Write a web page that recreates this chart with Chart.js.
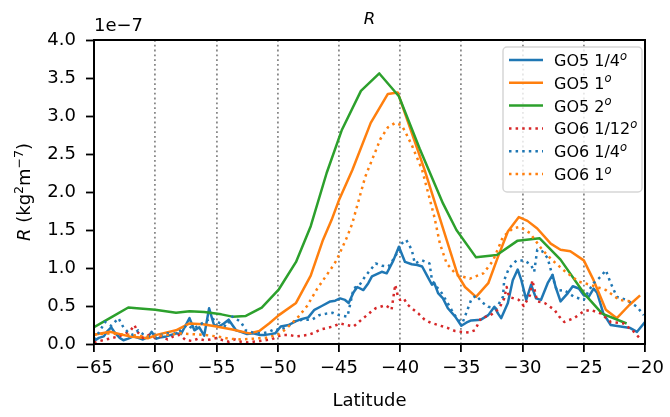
<!DOCTYPE html>
<html>
<head>
<meta charset="utf-8">
<script src="https://cdn.jsdelivr.net/npm/chart.js@4.4.1/dist/chart.umd.min.js"></script>
<style>
  html, body { margin: 0; padding: 0; background: #fff; }
  #wrap { width: 670px; height: 417px; }
</style>
</head>
<body>
<div id="wrap"><canvas id="chart" width="670" height="417"></canvas></div>
<script>
const FONT = '"DejaVu Sans", sans-serif';
const FS = 18; // ticks and axis labels
const FS_LEGEND = 16;
const FS_TITLE = 16.5;
const FS_SUP = 12.5;

// values in units of 1e-7 kg^2 m^-7
const go5QuarterLat = [-65, -64.6, -64.2, -63.9, -63.6, -63.3, -62.9, -62.6, -62.2, -61.8, -61.4, -61.0, -60.6, -60.3, -59.9, -59.5, -59.1, -58.7, -58.3, -57.9, -57.6, -57.2, -56.8, -56.4, -56.0, -55.6, -55.2, -54.8, -54.4, -54.0, -53.7, -53.4, -53.0, -52.5, -52.0, -51.5, -51.0, -50.6, -50.2, -49.75, -49.1, -48.5, -48.0, -47.5, -47.0, -46.4, -45.7, -45.3, -44.9, -44.5, -44.2, -43.8, -43.5, -43.0, -42.6, -42.3, -41.9, -41.5, -41.1, -40.8, -40.55, -40.1, -39.6, -39.05, -38.6, -38.2, -37.8, -37.4, -37.2, -36.9, -36.5, -36.1, -35.5, -35.0, -34.6, -34.2, -33.4, -32.8, -32.3, -32.0, -31.75, -31.2, -30.8, -30.4, -30.1, -29.7, -29.3, -28.9, -28.5, -27.95, -27.55, -27.3, -26.9, -26.3, -25.9, -25.4, -25.0, -24.6, -24.2, -23.9, -23.4, -22.8, -22.0, -21.2, -20.65, -20.0];
const go5QuarterVal = [0.04, 0.08, 0.10, 0.17, 0.22, 0.15, 0.08, 0.05, 0.07, 0.10, 0.08, 0.06, 0.09, 0.16, 0.07, 0.09, 0.10, 0.12, 0.14, 0.13, 0.22, 0.34, 0.18, 0.22, 0.11, 0.47, 0.25, 0.23, 0.27, 0.32, 0.25, 0.18, 0.16, 0.13, 0.14, 0.12, 0.12, 0.13, 0.14, 0.23, 0.25, 0.30, 0.33, 0.35, 0.45, 0.50, 0.56, 0.57, 0.60, 0.58, 0.54, 0.68, 0.75, 0.71, 0.80, 0.89, 0.92, 0.95, 0.93, 1.02, 1.10, 1.28, 1.08, 1.05, 1.04, 1.02, 0.90, 0.78, 0.80, 0.67, 0.60, 0.47, 0.36, 0.24, 0.28, 0.31, 0.32, 0.38, 0.49, 0.40, 0.34, 0.54, 0.84, 0.98, 0.84, 0.58, 0.78, 0.60, 0.58, 0.80, 0.91, 0.75, 0.56, 0.67, 0.76, 0.73, 0.64, 0.62, 0.73, 0.67, 0.40, 0.25, 0.23, 0.21, 0.16, 0.29];

const go5OneLat = [-65, -63.7, -62.1, -60.6, -59.9, -58.3, -57.2, -56.1, -55.0, -53.7, -52.3, -51.5, -50.7, -49.9, -48.5, -47.3, -46.3, -45.6, -45.0, -43.9, -42.4, -41.0, -40.2, -38.0, -36.2, -35.3, -34.7, -33.8, -32.8, -32.0, -31.2, -30.3, -29.6, -28.8, -27.7, -26.9, -26.1, -25.0, -24.2, -23.2, -22.3, -21.3, -20.4];
const go5OneVal = [0.12, 0.16, 0.10, 0.075, 0.12, 0.18, 0.27, 0.26, 0.23, 0.19, 0.14, 0.17, 0.27, 0.38, 0.54, 0.90, 1.37, 1.63, 1.89, 2.29, 2.91, 3.29, 3.31, 2.29, 1.37, 0.91, 0.75, 0.62, 0.80, 1.15, 1.48, 1.67, 1.62, 1.52, 1.32, 1.24, 1.22, 1.10, 0.84, 0.45, 0.34, 0.51, 0.64];

const go5TwoLat = [-65, -63.6, -62.2, -61.5, -60.0, -58.3, -57.2, -56.0, -54.6, -53.7, -52.6, -51.3, -49.9, -48.5, -47.3, -46.0, -44.75, -43.2, -41.7, -40.1, -38.4, -36.5, -35.4, -33.8, -32.1, -30.4, -28.6, -26.9, -25.0, -23.5, -21.5];
const go5TwoVal = [0.22, 0.35, 0.48, 0.47, 0.45, 0.41, 0.43, 0.42, 0.39, 0.36, 0.37, 0.48, 0.72, 1.08, 1.55, 2.25, 2.82, 3.33, 3.56, 3.26, 2.57, 1.85, 1.50, 1.14, 1.17, 1.36, 1.39, 1.11, 0.67, 0.40, 0.27];

const go6TwelfthLat = [-65, -64.5, -64.0, -63.5, -63.0, -62.5, -62.0, -61.7, -61.4, -61.0, -60.5, -60.0, -59.5, -59.0, -58.5, -58.0, -57.5, -57.0, -56.5, -56.0, -55.5, -55.0, -54.5, -54.0, -53.5, -53.0, -52.5, -52.0, -51.5, -51.0, -50.5, -50.0, -49.6, -49.1, -48.5, -48.0, -47.5, -47.0, -46.5, -46.0, -45.5, -44.9, -44.4, -43.8, -43.3, -42.85, -42.4, -42.0, -41.6, -41.2, -40.9, -40.7, -40.4, -40.2, -40.0, -39.7, -39.4, -39.05, -38.5, -38.0, -37.5, -36.9, -36.1, -35.5, -35.0, -34.4, -33.9, -33.4, -32.6, -31.9, -31.5, -31.3, -31.1, -30.7, -30.3, -29.9, -29.4, -29.2, -28.8, -28.2, -27.4, -27.0, -26.6, -25.8, -25.0, -24.45, -23.6, -22.8, -21.75, -20.9, -20.4];
const go6TwelfthVal = [0.02, 0.04, 0.06, 0.08, 0.10, 0.13, 0.18, 0.25, 0.15, 0.08, 0.12, 0.08, 0.10, 0.06, 0.10, 0.12, 0.05, 0.04, 0.07, 0.05, 0.06, 0.08, 0.05, 0.03, 0.06, 0.03, 0.02, 0.03, 0.04, 0.05, 0.06, 0.10, 0.12, 0.12, 0.10, 0.11, 0.12, 0.15, 0.19, 0.21, 0.23, 0.27, 0.25, 0.23, 0.30, 0.36, 0.42, 0.47, 0.49, 0.51, 0.48, 0.45, 0.78, 0.64, 0.58, 0.60, 0.52, 0.47, 0.40, 0.32, 0.28, 0.25, 0.21, 0.17, 0.16, 0.15, 0.18, 0.34, 0.38, 0.47, 0.60, 0.75, 0.62, 0.60, 0.58, 0.50, 0.64, 0.84, 0.56, 0.54, 0.45, 0.36, 0.29, 0.34, 0.43, 0.45, 0.40, 0.29, 0.27, 0.16, 0.07];

const go6QuarterLat = [-65, -64.6, -64.1, -63.6, -63.0, -62.6, -62.2, -61.8, -61.4, -61.0, -60.5, -60.0, -59.5, -59.0, -58.5, -57.9, -57.4, -56.9, -56.4, -55.9, -55.4, -54.9, -54.2, -53.7, -53.0, -52.6, -52.0, -51.25, -50.7, -50.2, -49.9, -49.3, -48.6, -48.0, -47.2, -46.6, -46.0, -45.5, -45.0, -44.3, -43.8, -43.3, -42.85, -42.4, -42.0, -41.5, -40.95, -40.4, -39.9, -39.5, -39.05, -38.8, -38.5, -38.2, -37.6, -37.4, -37.0, -36.6, -35.8, -35.3, -34.9, -34.5, -34.2, -33.8, -33.3, -32.8, -32.15, -31.6, -31.5, -31.1, -30.5, -29.85, -29.3, -29.05, -28.8, -28.4, -27.95, -27.55, -27.2, -26.6, -25.8, -25.0, -24.6, -24.2, -23.6, -23.2, -22.8, -22.3, -21.5, -20.65, -20.1];
const go6QuarterVal = [0.06, 0.15, 0.29, 0.24, 0.34, 0.22, 0.15, 0.12, 0.18, 0.13, 0.10, 0.09, 0.12, 0.14, 0.13, 0.18, 0.25, 0.20, 0.25, 0.30, 0.34, 0.29, 0.23, 0.36, 0.29, 0.18, 0.15, 0.14, 0.16, 0.20, 0.18, 0.22, 0.30, 0.32, 0.32, 0.38, 0.40, 0.41, 0.38, 0.36, 0.73, 0.78, 0.89, 0.98, 1.06, 1.03, 1.02, 1.15, 1.32, 1.37, 1.24, 1.06, 1.08, 1.10, 1.06, 0.84, 0.75, 0.67, 0.45, 0.32, 0.28, 0.45, 0.58, 0.64, 0.55, 0.49, 0.47, 0.62, 0.84, 1.00, 1.10, 1.10, 1.04, 0.95, 1.24, 1.22, 1.13, 0.89, 0.70, 0.71, 0.62, 0.58, 0.70, 0.80, 0.89, 0.97, 0.80, 0.62, 0.58, 0.49, 0.38];

const go6OneLat = [-65, -64, -63, -62, -61, -60, -59, -58, -57, -56, -55, -54, -53, -52, -51, -50, -49.3, -48.3, -47.6, -46.8, -45.6, -45.2, -44.3, -43.9, -42.85, -41.6, -41.0, -40.4, -39.9, -39.6, -39.0, -38.2, -37.2, -36.75, -36.2, -35.4, -34.3, -33.2, -32.4, -31.6, -30.8, -30.2, -29.4, -28.4, -27.55, -26.5, -25.4, -24.5, -23.2, -22.1, -21.05];
const go6OneVal = [0.12, 0.14, 0.13, 0.12, 0.10, 0.10, 0.12, 0.14, 0.13, 0.12, 0.10, 0.07, 0.06, 0.07, 0.08, 0.12, 0.20, 0.36, 0.50, 0.72, 1.00, 1.10, 1.42, 1.59, 2.20, 2.70, 2.85, 2.91, 2.88, 2.80, 2.60, 2.29, 1.67, 1.32, 1.06, 0.91, 0.86, 0.93, 1.10, 1.41, 1.52, 1.54, 1.46, 1.24, 1.10, 0.95, 0.82, 0.78, 0.71, 0.58, 0.56];

const latTicks = [-65, -60, -55, -50, -45, -40, -35, -30, -25, -20];
const rTicks = [0, 0.5, 1.0, 1.5, 2.0, 2.5, 3.0, 3.5, 4.0];

const BLUE = '#1f77b4';
const ORANGE = '#ff7f0e';
const GREEN = '#2ca02c';
const RED = '#d62728';
const DOTS = [2.5, 4.1];

function points(lat, val) {
  const n = Math.min(lat.length, val.length);
  const out = [];
  for (let i = 0; i < n; i++) out.push({ x: lat[i], y: val[i] });
  return out;
}

function series(label, lat, val, color, dashed, i) {
  return {
    label,
    data: points(lat, val),
    borderColor: color,
    backgroundColor: color,
    borderWidth: 2.5,
    borderDash: dashed ? DOTS : [],
    borderCapStyle: 'butt',
    borderJoinStyle: 'round',
    pointRadius: 0,
    tension: 0,
    fill: false,
    // later series sit on top, like matplotlib
    order: -i,
  };
}

const datasets = [
  series('GO5 1/4', go5QuarterLat, go5QuarterVal, BLUE, false, 0),
  series('GO5 1', go5OneLat, go5OneVal, ORANGE, false, 1),
  series('GO5 2', go5TwoLat, go5TwoVal, GREEN, false, 2),
  series('GO6 1/12', go6TwelfthLat, go6TwelfthVal, RED, true, 3),
  series('GO6 1/4', go6QuarterLat, go6QuarterVal, BLUE, true, 4),
  series('GO6 1', go6OneLat, go6OneVal, ORANGE, true, 5),
];

// draw a row of text pieces with their own fonts and vertical shifts
function drawRuns(ctx, runs, x, y, align) {
  let total = 0;
  runs.forEach((r) => {
    ctx.font = r.font;
    r.w = ctx.measureText(r.t).width;
    total += r.w;
  });
  let cx = align === 'center' ? x - total / 2 : x;
  ctx.textAlign = 'left';
  runs.forEach((r) => {
    ctx.font = r.font;
    ctx.fillText(r.t, cx, y + (r.dy || 0));
    cx += r.w;
  });
}

const normal = (s) => `${s}px ${FONT}`;
const italic = (s) => `italic ${s}px ${FONT}`;

const decorations = {
  id: 'decorations',
  afterDatasetsDraw(chart) {
    const { ctx, chartArea: a } = chart;
    ctx.save();
    ctx.strokeStyle = '#000';
    ctx.lineWidth = 2;
    ctx.setLineDash([]);
    ctx.strokeRect(a.left, a.top, a.right - a.left, a.bottom - a.top);
    ctx.restore();
  },
  afterDraw(chart) {
    const { ctx, chartArea: a } = chart;
    const midX = (a.left + a.right) / 2;
    const midY = (a.top + a.bottom) / 2;
    ctx.save();
    ctx.fillStyle = '#000';
    ctx.textBaseline = 'alphabetic';

    // title
    drawRuns(ctx, [{ t: 'R', font: italic(FS_TITLE) }], midX, 24, 'center');

    // offset text
    drawRuns(ctx, [{ t: '1e\u22127', font: normal(FS) }], a.left, 31, 'left');

    // x label
    drawRuns(ctx, [{ t: 'Latitude', font: normal(FS) }], midX, 406, 'center');

    // y label
    ctx.save();
    ctx.translate(30, midY);
    ctx.rotate(-Math.PI / 2);
    drawRuns(ctx, [
      { t: 'R', font: italic(FS) },
      { t: ' (kg', font: normal(FS) },
      { t: '2', font: normal(FS_SUP), dy: -7 },
      { t: 'm', font: normal(FS) },
      { t: '\u22127', font: normal(FS_SUP), dy: -7 },
      { t: ')', font: normal(FS) },
    ], 0, 0, 'center');
    ctx.restore();

    // legend
    const bx = 503, by = 47, bw = 139, bh = 145, r = 4;
    ctx.beginPath();
    ctx.moveTo(bx + r, by);
    ctx.arcTo(bx + bw, by, bx + bw, by + bh, r);
    ctx.arcTo(bx + bw, by + bh, bx, by + bh, r);
    ctx.arcTo(bx, by + bh, bx, by, r);
    ctx.arcTo(bx, by, bx + bw, by, r);
    ctx.closePath();
    ctx.fillStyle = 'rgba(255,255,255,0.8)';
    ctx.fill();
    ctx.strokeStyle = 'rgba(204,204,204,0.8)';
    ctx.lineWidth = 1.5;
    ctx.stroke();

    chart.data.datasets.forEach((ds, i) => {
      const y = 60 + i * 22.8;
      ctx.beginPath();
      ctx.strokeStyle = ds.borderColor;
      ctx.lineWidth = ds.borderWidth;
      ctx.lineCap = 'butt';
      ctx.setLineDash(ds.borderDash);
      ctx.moveTo(509, y);
      ctx.lineTo(543, y);
      ctx.stroke();
      ctx.setLineDash([]);
      ctx.fillStyle = '#000';
      drawRuns(ctx, [
        { t: ds.label, font: normal(FS_LEGEND) },
        { t: 'o', font: italic(11.5), dy: -6.5 },
      ], 554, y + 6, 'left');
    });
    ctx.restore();
  },
};

new Chart(document.getElementById('chart'), {
  type: 'line',
  data: { datasets },
  plugins: [decorations],
  options: {
    responsive: false,
    devicePixelRatio: 1,
    animation: false,
    layout: { padding: { top: 40, right: 22, left: 0, bottom: 0 } },
    plugins: {
      legend: { display: false },
      tooltip: { enabled: false },
    },
    scales: {
      x: {
        type: 'linear',
        min: latTicks[0],
        max: latTicks[latTicks.length - 1],
        afterBuildTicks: (scale) => {
          scale.ticks = latTicks.map((v) => ({ value: v }));
        },
        afterFit: (scale) => {
          scale.height = 73;
        },
        ticks: {
          color: '#000',
          font: { family: FONT, size: FS },
          padding: 6,
          maxRotation: 0,
          autoSkip: false,
          callback: (v) => String(v).replace('-', '\u2212'),
        },
        grid: {
          drawOnChartArea: true,
          color: (ctx) => {
            const v = ctx.tick && ctx.tick.value;
            return v === latTicks[0] || v === latTicks[latTicks.length - 1] ? 'rgba(0,0,0,0)' : '#888888';
          },
          lineWidth: 1.8,
          tickLength: 8,
          tickColor: '#000',
          tickWidth: 1.8,
          tickBorderDash: [],
        },
        border: { display: false, dash: [1.8, 3] },
      },
      y: {
        type: 'linear',
        min: rTicks[0],
        max: rTicks[rTicks.length - 1],
        afterBuildTicks: (scale) => {
          scale.ticks = rTicks.map((v) => ({ value: v }));
        },
        afterFit: (scale) => {
          scale.width = 94;
        },
        ticks: {
          color: '#000',
          font: { family: FONT, size: FS },
          padding: 10,
          autoSkip: false,
          callback: (v) => Number(v).toFixed(1),
        },
        grid: {
          drawOnChartArea: false,
          tickLength: 8,
          tickColor: '#000',
          tickWidth: 1.8,
        },
        border: { display: false },
      },
    },
  },
});
</script>
</body>
</html>
